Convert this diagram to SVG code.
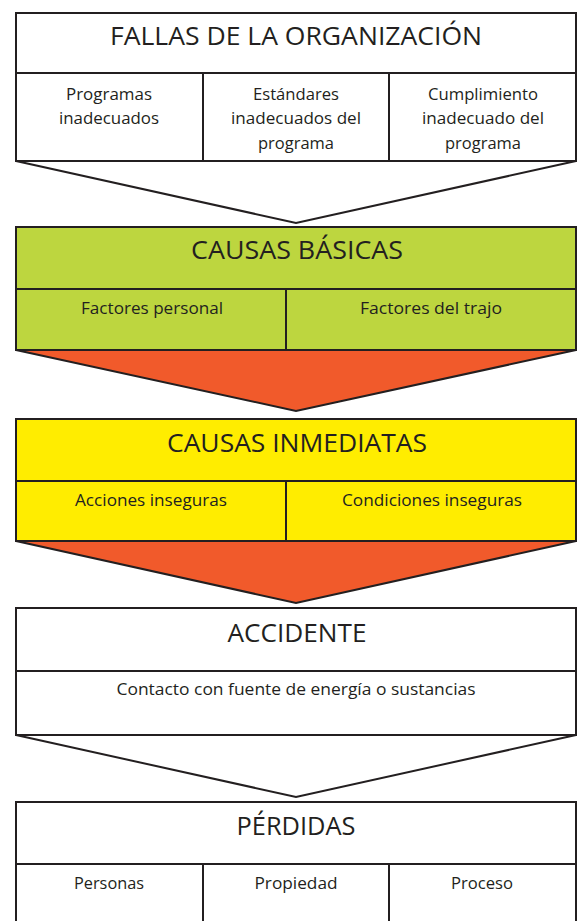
<svg xmlns="http://www.w3.org/2000/svg" width="577" height="921" viewBox="0 0 577 921">
<style>
.box{stroke:#231F20;stroke-width:2}
.ln{stroke:#231F20;stroke-width:2;fill:none}
.t{font-family:"Open Sans","Liberation Sans",sans-serif;font-size:26px;fill:#231F20;text-anchor:middle}
.s{font-family:"Open Sans","Liberation Sans",sans-serif;font-size:16px;fill:#231F20;text-anchor:middle}
.w{fill:#FFFFFF}
.g{fill:#BDD63F}
.y{fill:#FFED00}
.arrW{fill:#FFFFFF;stroke:#231F20;stroke-width:2;stroke-linejoin:miter}
.arrO{fill:#F15A2B;stroke:#231F20;stroke-width:2;stroke-linejoin:miter}
</style>
<rect width="577" height="921" fill="#FFFFFF"/>
<g id="connectors">
<polygon class="arrW" points="16,161 296,223 576,161"/>
<polygon class="arrO" points="16,350 296,411 576,350"/>
<polygon class="arrO" points="16,541 296,603 576,541"/>
<polygon class="arrW" points="16,735 296,797 576,735"/>
</g>
<g id="fallas">
<rect class="box w" x="16" y="13" width="560" height="148"/>
<line class="ln" x1="16" y1="73" x2="576" y2="73"/>
<line class="ln" x1="203" y1="73" x2="203" y2="161"/>
<line class="ln" x1="389" y1="73" x2="389" y2="161"/>
<text class="t" x="296" y="45" textLength="372" lengthAdjust="spacingAndGlyphs">FALLAS DE LA ORGANIZACIÓN</text>
<text class="s" x="109" y="100" textLength="86" lengthAdjust="spacingAndGlyphs">Programas</text>
<text class="s" x="109" y="124" textLength="100" lengthAdjust="spacingAndGlyphs">inadecuados</text>
<text class="s" x="296" y="100" textLength="86" lengthAdjust="spacingAndGlyphs">Estándares</text>
<text class="s" x="296" y="124" textLength="130" lengthAdjust="spacingAndGlyphs">inadecuados del</text>
<text class="s" x="296" y="149" textLength="76" lengthAdjust="spacingAndGlyphs">programa</text>
<text class="s" x="483" y="100" textLength="110" lengthAdjust="spacingAndGlyphs">Cumplimiento</text>
<text class="s" x="483" y="124" textLength="122" lengthAdjust="spacingAndGlyphs">inadecuado del</text>
<text class="s" x="483" y="149" textLength="76" lengthAdjust="spacingAndGlyphs">programa</text>
</g>
<g id="causas-basicas">
<rect class="box g" x="16" y="227" width="560" height="123"/>
<line class="ln" x1="16" y1="289" x2="576" y2="289"/>
<line class="ln" x1="286" y1="289" x2="286" y2="350"/>
<text class="t" x="297" y="259" textLength="212" lengthAdjust="spacingAndGlyphs">CAUSAS BÁSICAS</text>
<text class="s" x="152" y="314" textLength="142" lengthAdjust="spacingAndGlyphs">Factores personal</text>
<text class="s" x="431" y="314" textLength="142" lengthAdjust="spacingAndGlyphs">Factores del trajo</text>
</g>
<g id="causas-inmediatas">
<rect class="box y" x="16" y="419" width="560" height="122"/>
<line class="ln" x1="16" y1="481" x2="576" y2="481"/>
<line class="ln" x1="286" y1="481" x2="286" y2="541"/>
<text class="t" x="297" y="452" textLength="260" lengthAdjust="spacingAndGlyphs">CAUSAS INMEDIATAS</text>
<text class="s" x="151" y="506" textLength="152" lengthAdjust="spacingAndGlyphs">Acciones inseguras</text>
<text class="s" x="432" y="506" textLength="180" lengthAdjust="spacingAndGlyphs">Condiciones inseguras</text>
</g>
<g id="accidente">
<rect class="box w" x="16" y="608" width="560" height="127"/>
<line class="ln" x1="16" y1="671" x2="576" y2="671"/>
<text class="t" x="297" y="642" textLength="139" lengthAdjust="spacingAndGlyphs">ACCIDENTE</text>
<text class="s" x="296" y="695" textLength="359" lengthAdjust="spacingAndGlyphs">Contacto con fuente de energía o sustancias</text>
</g>
<g id="perdidas">
<rect class="box w" x="16" y="802" width="560" height="140"/>
<line class="ln" x1="16" y1="864" x2="576" y2="864"/>
<line class="ln" x1="203" y1="864" x2="203" y2="930"/>
<line class="ln" x1="389" y1="864" x2="389" y2="930"/>
<text class="t" x="296" y="835" textLength="119" lengthAdjust="spacingAndGlyphs">PÉRDIDAS</text>
<text class="s" x="109" y="889" textLength="70" lengthAdjust="spacingAndGlyphs">Personas</text>
<text class="s" x="296" y="889" textLength="83" lengthAdjust="spacingAndGlyphs">Propiedad</text>
<text class="s" x="482" y="889" textLength="62" lengthAdjust="spacingAndGlyphs">Proceso</text>
</g>
</svg>
